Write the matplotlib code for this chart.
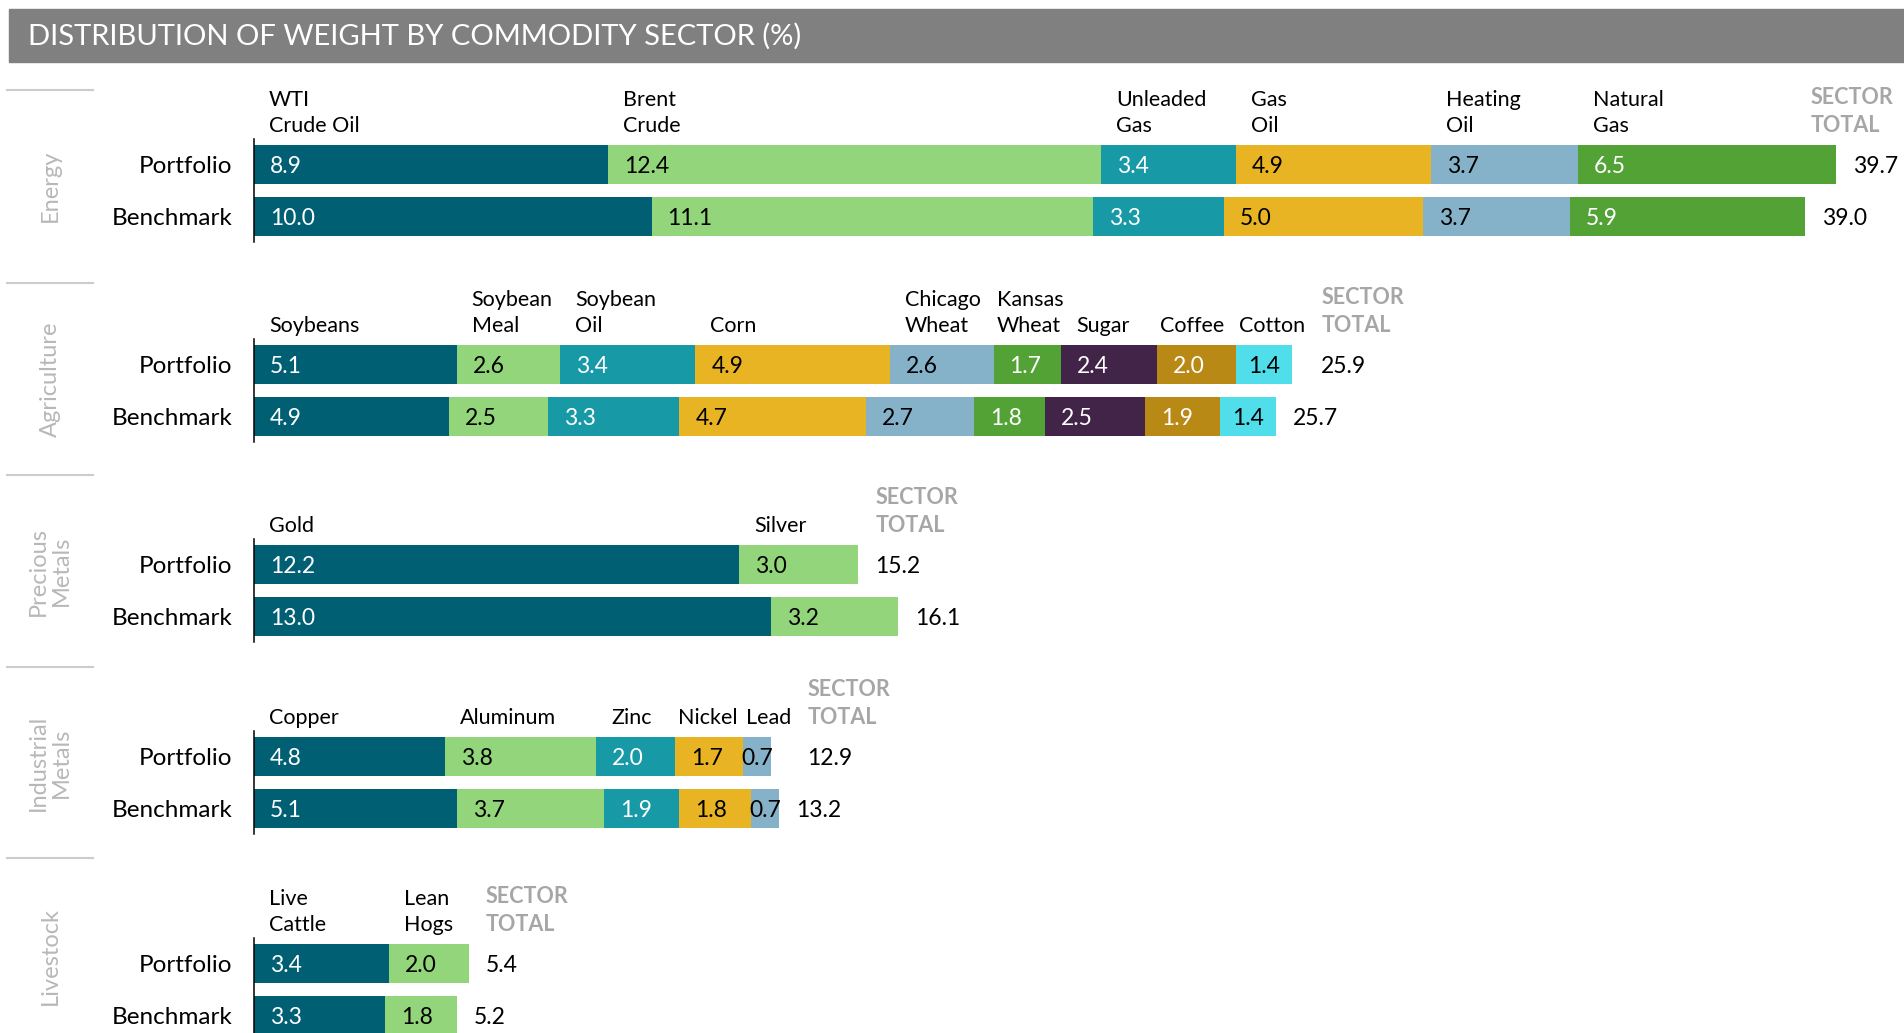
import matplotlib
matplotlib.use("Agg")
import matplotlib.pyplot as plt
from matplotlib.patches import Rectangle
from matplotlib.lines import Line2D

plt.rcParams['font.family'] = ['Lato', 'DejaVu Sans']

# ---- data -------------------------------------------------------------
sectors = ["Energy", "Agriculture", "Precious\nMetals", "Industrial\nMetals", "Livestock"]
rows = ["Portfolio", "Benchmark"]

energy_items = ["WTI\nCrude Oil", "Brent\nCrude", "Unleaded\nGas", "Gas\nOil", "Heating\nOil", "Natural\nGas"]
energy_portfolio = [8.9, 12.4, 3.4, 4.9, 3.7, 6.5]
energy_benchmark = [10.0, 11.1, 3.3, 5.0, 3.7, 5.9]

agri_items = ["Soybeans", "Soybean\nMeal", "Soybean\nOil", "Corn", "Chicago\nWheat",
              "Kansas\nWheat", "Sugar", "Coffee", "Cotton"]
agri_portfolio = [5.1, 2.6, 3.4, 4.9, 2.6, 1.7, 2.4, 2.0, 1.4]
agri_benchmark = [4.9, 2.5, 3.3, 4.7, 2.7, 1.8, 2.5, 1.9, 1.4]

precious_items = ["Gold", "Silver"]
precious_portfolio = [12.2, 3.0]
precious_benchmark = [13.0, 3.2]

industrial_items = ["Copper", "Aluminum", "Zinc", "Nickel", "Lead"]
industrial_portfolio = [4.8, 3.8, 2.0, 1.7, 0.7]
industrial_benchmark = [5.1, 3.7, 1.9, 1.8, 0.7]

livestock_items = ["Live\nCattle", "Lean\nHogs"]
livestock_portfolio = [3.4, 2.0]
livestock_benchmark = [3.3, 1.8]

total_portfolio = [39.7, 25.9, 15.2, 12.9, 5.4]
total_benchmark = [39.0, 25.7, 16.1, 13.2, 5.2]

# ---- style ------------------------------------------------------------
palette = ["#005f73", "#93d57b", "#1799a6", "#e8b424", "#85b2c9",
           "#52a236", "#412447", "#b88914", "#50deeb"]
white_text = [True, False, True, False, False, True, True, True, False]

W, H = 1904, 1033
X0 = 254          # pixel of zero
PX_PER_UNIT = 39.76
ROW_STEP = 51.7   # pixels between the two bars
bar_top_px = [145, 345, 545, 737, 944]
rule_y_px = [90, 283, 475, 667, 858]
sector_label_y_px = [186, 379, 571, 763, 956]

sections = [
    (energy_items, energy_portfolio, energy_benchmark),
    (agri_items, agri_portfolio, agri_benchmark),
    (precious_items, precious_portfolio, precious_benchmark),
    (industrial_items, industrial_portfolio, industrial_benchmark),
    (livestock_items, livestock_portfolio, livestock_benchmark),
]

fig = plt.figure(figsize=(W / 100, H / 100), dpi=100)
renderer = fig.canvas.get_renderer()

# title bar
fig.patches.append(Rectangle((9 / W, 1 - 62 / H), (W - 9) / W, 53 / H,
                             transform=fig.transFigure, color="#808080", zorder=0))
fig.text(28 / W, 1 - 36 / H, "DISTRIBUTION OF WEIGHT BY COMMODITY SECTOR (%)",
         color="white", fontsize=21, va="center", ha="left")

BAR_H = 0.76
HEAD_FS = 15.5
for i, (items, port, bench) in enumerate(sections):
    top = bar_top_px[i] - (0.5 - BAR_H / 2) * ROW_STEP
    ax = fig.add_axes([X0 / W, 1 - (top + 2 * ROW_STEP) / H, (W - X0) / W, 2 * ROW_STEP / H])
    ax.set_xlim(0, (W - X0) / PX_PER_UNIT)
    ax.set_ylim(1.5, -0.5)
    for s in ["top", "right", "bottom"]:
        ax.spines[s].set_visible(False)
    ax.spines["left"].set_linewidth(1.1)
    ax.set_xticks([])
    ax.set_yticks([])
    ax.patch.set_alpha(0)

    # separators and sector name
    fig.add_artist(Line2D([7 / W, 93 / W], [1 - rule_y_px[i] / H] * 2, color="#cccccc", lw=1.5))
    fig.text(50 / W, 1 - sector_label_y_px[i] / H, sectors[i], rotation=90,
             ha="center", va="center", multialignment="center", color="#b8b8b8",
             fontsize=17, linespacing=1.15)

    # header labels above the portfolio bar
    header_right = 0
    left = 0
    for j, name in enumerate(items):
        t = ax.annotate(name, xy=(left, -BAR_H / 2), xytext=(15, 9),
                        textcoords="offset pixels", ha="left", va="bottom",
                        fontsize=HEAD_FS, linespacing=1.4, color="black")
        bb = t.get_window_extent(renderer)
        next_px = ax.transData.transform((left + port[j], 0))[0]
        if bb.x1 > next_px - 4:
            t.xyann = (3, 9)
        header_right = max(header_right, t.get_window_extent(renderer).x1)
        left += port[j]

    for r, vals in enumerate([port, bench]):
        ax.annotate(rows[r], xy=(0, r), xytext=(-22, 0), textcoords="offset pixels",
                    ha="right", va="center_baseline", fontsize=17.5)
        left = 0
        for j, v in enumerate(vals):
            ax.barh(r, v, left=left, height=BAR_H, color=palette[j], linewidth=0)
            col = "white" if white_text[j] else "black"
            t = ax.annotate(f"{v:.1f}", xy=(left, r), xytext=(16, 0),
                            textcoords="offset pixels", ha="left", va="center_baseline",
                            fontsize=16.5, color=col)
            w = t.get_window_extent(renderer).width
            if v * PX_PER_UNIT < w + 24:
                t.xy = (left + v / 2, r)
                t.xyann = (0, 0)
                t.set_ha("center")
            left += v

        # total
        total = [total_portfolio, total_benchmark][r][i]
        end_px = ax.transData.transform((left, r))[0]
        tx = end_px + 17
        if r == 0:
            tx = max(tx, header_right + 16)
            port_tx = tx
        ax.annotate(f"{total:.1f}", xy=(left, r), xytext=(tx - end_px, 0),
                    textcoords="offset pixels", ha="left", va="center_baseline",
                    fontsize=16.5, color="black")

    # SECTOR TOTAL header
    end_px = ax.transData.transform((sum(port), -BAR_H / 2))[0]
    t = ax.annotate("SECTOR\nTOTAL", xy=(sum(port), -BAR_H / 2), xytext=(port_tx - end_px, 9),
                    textcoords="offset pixels", ha="left", va="bottom", fontsize=HEAD_FS,
                    fontweight="bold", color="#a6a6a6", linespacing=1.4)
    bb = t.get_window_extent(renderer)
    if bb.x1 > W - 11:
        t.xyann = (port_tx - end_px - (bb.x1 - (W - 11)), 9)

fig.savefig("out.png", dpi=100)
